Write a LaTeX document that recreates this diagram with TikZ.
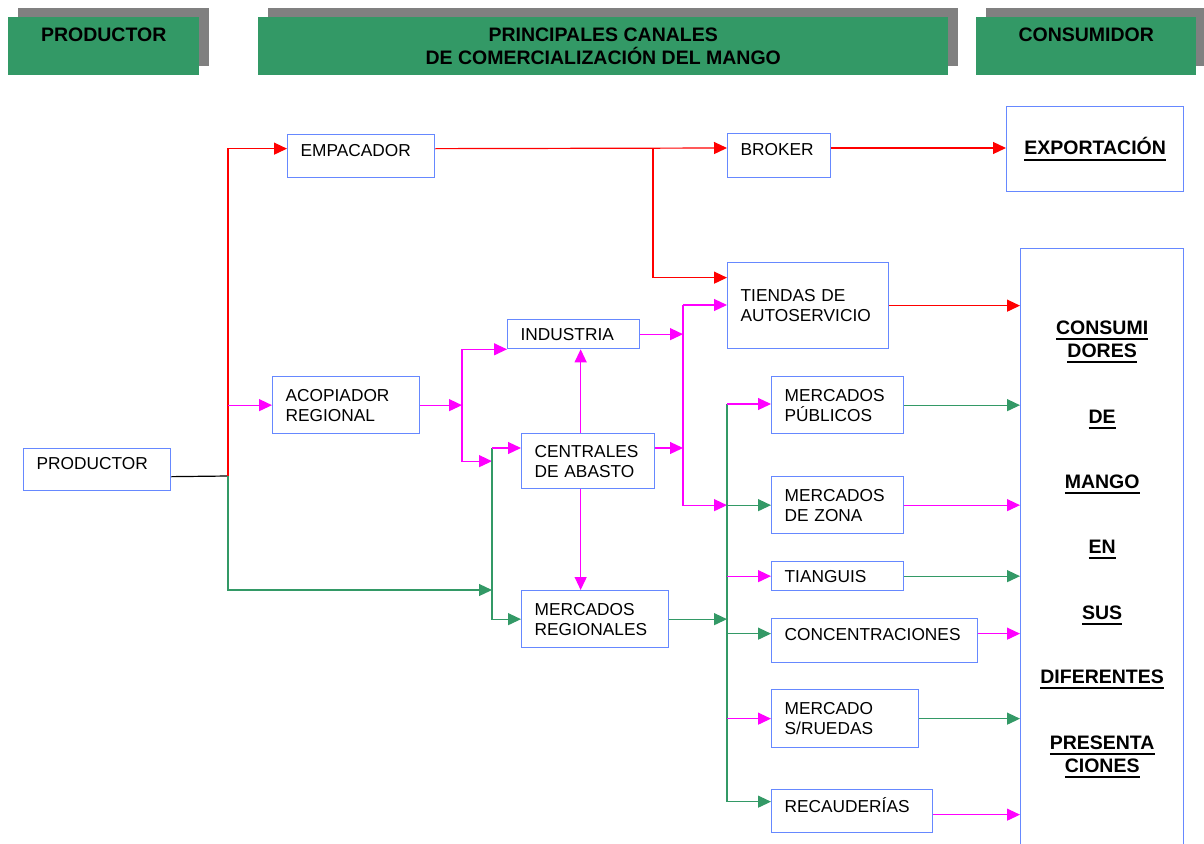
\documentclass[tikz,border=0pt]{standalone}
\usepackage{fontspec}
\setmainfont{Liberation Sans}
\usetikzlibrary{arrows.meta,calc,shadows}

\definecolor{cajaazul}{HTML}{6688FF}
\definecolor{verdehdr}{HTML}{339966}
\definecolor{grishdr}{HTML}{808080}
\definecolor{verdelin}{HTML}{339966}
\definecolor{rojolin}{HTML}{FF0000}
\definecolor{maglin}{HTML}{FF00FF}

\newcommand{\letracaja}{\fontsize{17.3pt}{20pt}\selectfont}
\newcommand{\letrahdr}{\fontsize{19.5pt}{23pt}\selectfont\bfseries}
% subrayado grueso
\newcommand{\subr}[1]{\leavevmode\setbox0=\hbox{#1}\rlap{\rule[-6pt]{\wd0}{2pt}}\box0}

\begin{document}
\begin{tikzpicture}[x=1pt, y=-1pt,
    >={Triangle[length=13pt,width=12pt]},
    caja/.style = {draw=cajaazul, line width=1.3pt, anchor=north west,
      align=left, inner xsep=13pt, inner ysep=0pt, font=\letracaja},
    arriba/.style = {text depth=12pt},
    final/.style = {caja, align=center, font=\letrahdr},
    hdr/.style = {fill=verdehdr, anchor=north west, inner sep=0pt,
      general shadow={fill=grishdr, shadow xshift=9.5pt, shadow yshift=9pt}},
    hdrtxt/.style = {anchor=north, inner sep=0pt, yshift=-11pt,
      align=center, font=\letrahdr},
    rojo/.style = {draw=rojolin, line width=1.2pt},
    mag/.style = {draw=maglin, line width=1.2pt},
    verde/.style = {draw=verdelin, line width=1.2pt},
    negro/.style = {draw=black, line width=1.2pt}]
  \useasboundingbox (0,0) rectangle (1204,843);
  \clip (0,0) rectangle (1204,843);

  % encabezados
  \node[hdr, minimum width=191pt, minimum height=58pt,
    label={[hdrtxt]north:PRODUCTOR}] (hprod) at (8,17) {};
  \node[hdr, minimum width=690pt, minimum height=58pt,
    label={[hdrtxt]north:PRINCIPALES CANALES\\DE COMERCIALIZACIÓN DEL MANGO}] (hcan) at (258,17) {};
  \node[hdr, minimum width=220pt, minimum height=58pt,
    label={[hdrtxt]north:CONSUMIDOR}] (hcons) at (976,17) {};

  % cajas
  \node[caja, arriba, text width=121pt, minimum height=42pt] (prod) at (23,448) {PRODUCTOR};
  \node[caja, arriba, text width=121pt, minimum height=43pt] (emp) at (287,134) {EMPACADOR};
  \node[caja, text width=121pt, minimum height=57pt] (acop) at (272,376) {ACOPIADOR\\REGIONAL};
  \node[caja, text width=106pt, minimum height=29pt] (ind) at (507,319) {INDUSTRIA};
  \node[caja, text width=107pt, minimum height=55pt] (cent) at (521,433) {CENTRALES\\DE ABASTO};
  \node[caja, text width=121pt, minimum height=57pt] (mreg) at (521,590) {MERCADOS\\REGIONALES};
  \node[caja, arriba, text width=77pt, minimum height=44pt] (brok) at (727,133) {BROKER};
  \node[caja, text width=135pt, minimum height=86pt] (tiend) at (727,262) {TIENDAS DE\\AUTOSERVICIO};
  \node[caja, text width=106pt, minimum height=57pt] (mpub) at (771,376) {MERCADOS\\PÚBLICOS};
  \node[caja, text width=106pt, minimum height=57pt] (mzona) at (771,476) {MERCADOS\\DE ZONA};
  \node[caja, text width=106pt, minimum height=29pt] (tiang) at (771,561) {TIANGUIS};
  \node[caja, arriba, text width=180pt, minimum height=44pt] (conc) at (771,618) {CONCENTRACIONES};
  \node[caja, text width=121pt, minimum height=58pt] (mrue) at (771,689) {MERCADO\\S/RUEDAS};
  \node[caja, arriba, text width=135pt, minimum height=43pt] (recau) at (771,789) {RECAUDERÍAS};
  \node[final, text width=151pt, minimum height=85pt] (expo) at (1006,106) {\subr{EXPORTACIÓN}};
  \node[final, text width=137pt, minimum height=602pt] (cons) at (1020,248)
    {\subr{CONSUMI}\\\subr{DORES}\\[43pt]\subr{DE}\\[42pt]\subr{MANGO}\\[42pt]\subr{EN}\\[43pt]%
     \subr{SUS}\\[41pt]\subr{DIFERENTES}\\[43pt]\subr{PRESENTA}\\\subr{CIONES}};

  % puntos de union
  \coordinate (jprod) at (228,476);
  \coordinate (jacop) at (462,404);
  \coordinate (jreg) at (492,448);
  \coordinate (jind) at (683,305);
  \coordinate (jemp) at (653,148);
  \coordinate (jmer) at (727,404);
  \coordinate (jcol) at ([xshift=-7.5pt]cent.north);
  \coordinate (conc-in) at ([yshift=7pt]conc.west);
  \coordinate (recau-in) at ([yshift=9.5pt]recau.west);
  \coordinate (recau-out) at ([yshift=-3.5pt]recau.east);

  % productor
  \draw[negro] ([yshift=-7pt]prod.east) -- (jprod);
  \draw[rojo,->] (jprod) |- ([yshift=7.5pt]emp.west);
  \draw[mag,->] (jprod |- acop.west) -- (acop.west);
  \draw[verde,->] (jprod) |- (jreg |- mreg.north);

  % acopiador, industria, centrales
  \draw[mag,->] (acop.east) -- (acop.east -| jacop);
  \draw[mag,->] (jacop |- ind.south) -- (ind.south west);
  \draw[mag,->] (jacop |- ind.south) |- (jreg |- cent.west);
  \draw[verde,->] (jreg) |- (mreg.west);
  \draw[mag,->] (jreg) -- (jreg -| cent.west);
  \draw[mag,->] (jcol) -- (jcol |- ind.south);
  \draw[mag,->] (jcol |- cent.south) -- (jcol |- mreg.north);
  \draw[mag,->] (ind.east) -- (ind.east -| jind);
  \draw[mag,->] (jreg -| cent.east) -- (jreg -| jind);
  \draw[mag,->] (jind) -- (jind -| tiend.west);
  \draw[mag,->] (jind) |- (jmer |- mzona.west);

  % empacador
  \draw[rojo,->] ([yshift=7.5pt]emp.east) -- (jemp -| brok.west);
  \draw[rojo,->] (jemp) |- ([yshift=28pt]tiend.west);
  \draw[rojo,->] (jemp -| brok.east) -- (jemp -| expo.west);
  \draw[rojo,->] (tiend.east) -- (tiend.east -| cons.west);

  % mercados
  \draw[verde,->] (jmer) |- (recau-in);
  \draw[verde,->] (mreg.east) -- (mreg.east -| jmer);
  \draw[mag,->] (jmer) -- (jmer -| mpub.west);
  \draw[verde,->] (jmer |- mzona.west) -- (mzona.west);
  \draw[mag,->] (jmer |- tiang.west) -- (tiang.west);
  \draw[verde,->] (jmer |- conc-in) -- (conc-in);
  \draw[mag,->] (jmer |- mrue.west) -- (mrue.west);

  % hacia el consumidor
  \draw[verde,->] (mpub.east) -- (mpub.east -| cons.west);
  \draw[mag,->] (mzona.east) -- (mzona.east -| cons.west);
  \draw[verde,->] (tiang.east) -- (tiang.east -| cons.west);
  \draw[mag,->] (conc-in -| conc.east) -- (conc-in -| cons.west);
  \draw[verde,->] (mrue.east) -- (mrue.east -| cons.west);
  \draw[mag,->] (recau-out) -- (recau-out -| cons.west);
\end{tikzpicture}
\end{document}
